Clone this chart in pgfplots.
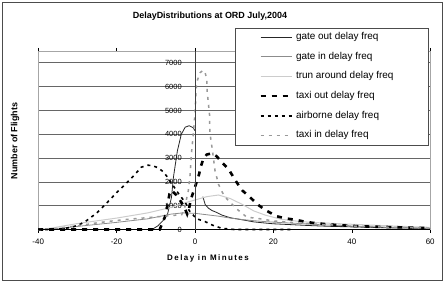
\documentclass[border=0pt]{standalone}
\usepackage{fontspec}
\setmainfont{Liberation Sans}
\newfontfamily\spacedfont[LetterSpace=18]{Liberation Sans}
\usepackage{pgfplots}
\pgfplotsset{compat=1.18}

\begin{document}
\begin{tikzpicture}[x=1bp,y=1bp]
\useasboundingbox (0,0) rectangle (445,282);
\draw[black!70, line width=0.9bp] (2,2) rectangle (442.5,280);
\node[font=\bfseries\fontsize{9}{10}\selectfont] at (210,266) {DelayDistributions at ORD July,2004};
\node[font=\bfseries\fontsize{9}{10}\selectfont, rotate=90] at (15,141) {Number of Flights};
\node[font=\spacedfont\bfseries\fontsize{8}{10}\selectfont] at (208,24) {Delay in Minutes};

\begin{axis}[
  at={(195bp,52.5bp)}, anchor=origin,
  width=392bp, height=178.5bp, scale only axis,
  xmin=-40, xmax=60, ymin=0, ymax=7500,
  xtick={-40,-20,...,60}, ytick={0,1000,...,7000},
  axis line style={draw=none},
  ymajorgrids, grid style={black!60, line width=0.8bp},
  tick align=outside, major tick length=3bp,
  xtick style={black, line width=0.6bp},
  ytick style={draw=none},
  /pgf/number format/.cd, 1000 sep={}, assume math mode=true, /pgfplots/.cd,
  x tick label style={font=\fontsize{8}{9}\selectfont, yshift=-3bp},
  y tick label style={font=\fontsize{7.5}{8}\selectfont, xshift=150bp},
  clip=false,
  legend cell align=left,
  legend image code/.code={\draw[#1] (0bp,0bp) -- (31bp,0bp);},
  legend style={draw=none, fill=none, at={(axis description cs:0.5638,1.1081)},
    anchor=north west, inner sep=0pt, row sep=9.7bp, column sep=3bp,
    font=\fontsize{10}{12}\selectfont,
    nodes={inner sep=0pt, text height=7.5bp, text depth=2.5bp}},
]
\draw[black!35, line width=0.6bp] (rel axis cs:0,0) rectangle (rel axis cs:1,1);

% gate out
\addplot[black!85, line width=0.8bp, unbounded coords=jump] coordinates {
(-40,0) (-30,0) (-20,0) (-11,0) (-9.5,150) (-8,400) (-7,650) (-6,1350) (-5.5,2200)
(-4.5,3300) (-3.5,4000) (-2.5,4300) (-1.5,4360) (-0.5,4280) (0,4150) (1,nan)
(2,1380) (2.6,1050) (3.4,900) (4.3,800) (5.5,720) (6.8,610) (8.1,540) (9.4,480)
(10.6,450) (13,380) (15,320) (18,270) (20,240) (25,200) (30,160) (35,130) (40,110)
(45,90) (50,70) (55,60) (60,50)};
\addlegendentry{gate out delay freq}

% gate in
\addplot[black!45, line width=0.8bp] coordinates {
(-38,0) (-30,130) (-20,300) (-12,450) (-6,650) (-3,700) (0,680) (3,620) (6,560)
(9,480) (12,420) (15,370) (18,330) (22,290) (27,250) (32,200) (40,150) (50,90) (60,60)};
\addlegendentry{gate in delay freq}

% turnaround
\addplot[black!20, line width=1bp] coordinates {
(-40,0) (-37,50) (-30,250) (-20,480) (-12,700) (-6,935) (-3,1100) (0,1240) (3,1380)
(6,1450) (9,1300) (12,1060) (15,780) (18,600) (22,430) (27,330) (32,280) (40,220)
(50,150) (60,90)};
\addlegendentry{trun around delay freq}

% taxi out
\addplot[black, line width=2.6bp, dash pattern=on 5bp off 6bp] coordinates {
(-40,0) (-30,0) (-20,0) (-10,0) (-9,0) (-7.5,600) (-6.5,1500) (-6,1650) (-4.7,1440)
(-3.5,1150) (-2.5,850) (-2,650) (-1.5,900) (-1,1300) (0,1780) (1,2300) (1.5,2650)
(2.1,2950) (3,3150) (4.3,3200) (5.5,3080) (7,2800) (8.5,2550) (10.6,1990) (12,1650)
(14,1360) (16,1050) (17.9,820) (20.8,560) (23,470) (25.9,400) (28,330) (30,280)
(33,230) (36,190) (40,150) (45,120) (50,100) (55,80) (60,60)};
\addlegendentry{taxi out delay freq}

% airborne
\addplot[black, line width=1.6bp, dash pattern=on 3bp off 4bp] coordinates {
(-40,0) (-37.5,0) (-34,30) (-31.6,90) (-29.5,200) (-27.7,370) (-25,700) (-22.2,1170)
(-20,1550) (-17.9,1880) (-15.4,2300) (-13.7,2620) (-12,2700) (-11,2690) (-9.5,2600)
(-8.2,2440) (-7,2200) (-6,1950) (-4.3,1530) (-3,1250) (-2,1000) (-1.5,800) (0,520)
(1,420) (2.6,330) (4.5,180) (6.8,50) (10,0) (15,0) (20,0) (25,0)};
\addlegendentry{airborne delay freq}

% taxi in
\addplot[black!40, line width=1.5bp, dash pattern=on 3bp off 5bp] coordinates {
(-40,0) (-38,0) (-30,150) (-25,280) (-20,380) (-17,430) (-12,500) (-8,560) (-5,600)
(-3.4,620) (-2.6,940) (-1.7,1640) (-1.3,2200) (-0.9,3220) (-0.4,4060) (0,4900)
(0.4,6170) (1.3,6590) (2.1,6690) (2.5,6650) (3,6310) (3.1,5810) (3.4,5320) (3.7,4830)
(3.8,4060) (4.3,3490) (4.7,3000) (5.1,2480) (6,1900) (7,1550) (8.1,1290) (10.6,870)
(13.2,520) (16.6,450) (20,360) (25,290) (30,230) (40,150) (50,90) (60,60)};
\addlegendentry{taxi in delay freq}

\draw[black, line width=0.8bp] (axis cs:-40,0) -- (axis cs:60,0);
\draw[black!75, line width=0.8bp] (axis cs:0,0) -- (axis cs:0,7500);
\fill[white] (rel axis cs:0.5026,0.4734) rectangle (rel axis cs:0.9949,1.1289);
\draw[black!70, line width=0.8bp] (rel axis cs:0.5026,0.4734) rectangle (rel axis cs:0.9949,1.1289);
\end{axis}
\end{tikzpicture}
\end{document}
